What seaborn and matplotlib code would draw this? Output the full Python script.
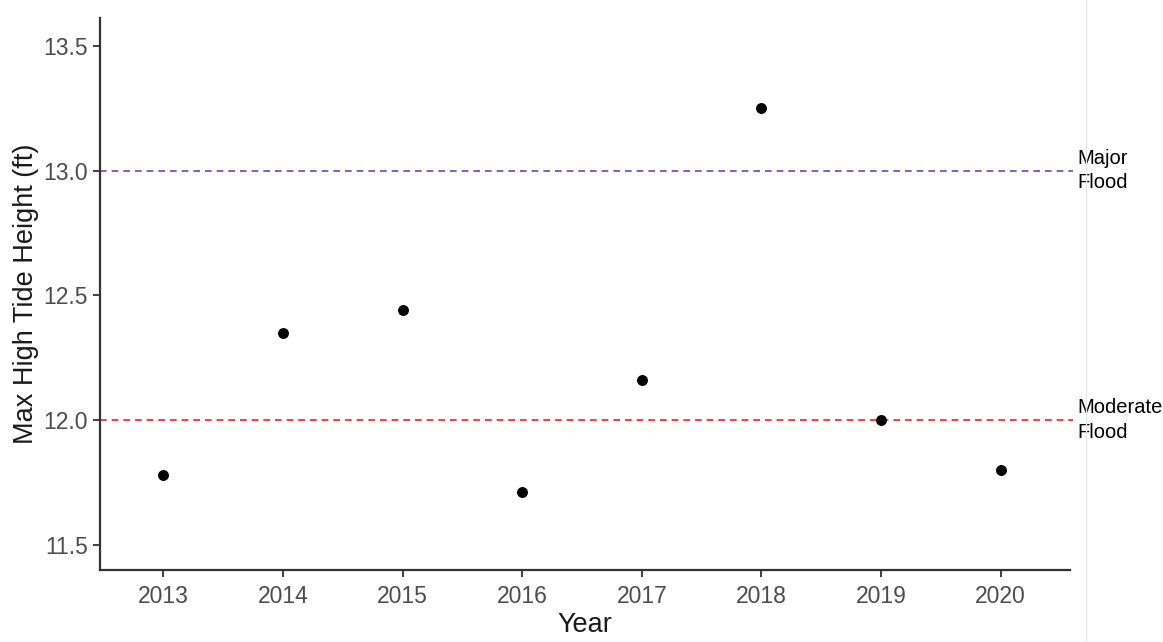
import matplotlib
matplotlib.use("Agg")
import matplotlib.pyplot as plt
import seaborn as sns
import pandas as pd

# Annual maximum high tide heights
years = [2013, 2014, 2015, 2016, 2017, 2018, 2019, 2020]
max_tide_ft = [11.78, 12.35, 12.44, 11.71, 12.16, 13.25, 12.00, 11.80]

# Flood thresholds
threshold_levels = [13.0, 12.0]
threshold_labels = ["Major\nFlood", "Moderate\nFlood"]
threshold_colors = ["#7b3fb0", "#ff1a1a"]

y_ticks = [11.5, 12.0, 12.5, 13.0, 13.5]

sns.set_theme(style="ticks")
plt.rcParams["font.family"] = ["Liberation Sans", "DejaVu Sans"]

df = pd.DataFrame({"Year": years, "Height": max_tide_ft})

fig = plt.figure(figsize=(11.63, 6.42), dpi=100)
ax = fig.add_axes([0.086, 0.1121, 0.834, 0.86])

sns.scatterplot(data=df, x="Year", y="Height", ax=ax, color="black",
                s=62, edgecolor="black", linewidth=0, zorder=3)

for lvl, lab, col in zip(threshold_levels, threshold_labels, threshold_colors):
    ax.plot([0, 1.003], [lvl, lvl], transform=ax.get_yaxis_transform(),
            color=col, linestyle=(0, (4, 3)), linewidth=1.2, clip_on=False, zorder=2)
    ax.text(1.0075, lvl, lab, transform=ax.get_yaxis_transform(),
            ha="left", va="center", fontsize=14.5, color="black",
            linespacing=1.35)

ax.set_xlim(2012.47, 2020.58)
ax.set_ylim(11.399, 13.612)
ax.set_xticks(years)
ax.set_xticklabels([str(y) for y in years])
ax.set_yticks(y_ticks)
ax.set_yticklabels([f"{v:.1f}" for v in y_ticks])

ax.tick_params(axis="both", labelsize=16.5, colors="#333333", labelcolor="#4d4d4d",
               length=5, width=1.3)
ax.tick_params(axis="x", pad=6)
ax.set_xlabel("Year", fontsize=19.5, color="#1a1a1a", labelpad=3)
ax.set_ylabel("Max High Tide Height (ft)", fontsize=19.5, color="#1a1a1a", labelpad=3)

for side in ["top", "right"]:
    ax.spines[side].set_visible(False)
for side in ["left", "bottom"]:
    ax.spines[side].set_linewidth(1.6)
    ax.spines[side].set_color("#333333")

# faint panel border on the right
fig.add_artist(plt.Line2D([1086 / 1163, 1086 / 1163], [0, 1], color="#e6e6e6",
                          linewidth=1, transform=fig.transFigure))

fig.savefig("out.png", dpi=100)
